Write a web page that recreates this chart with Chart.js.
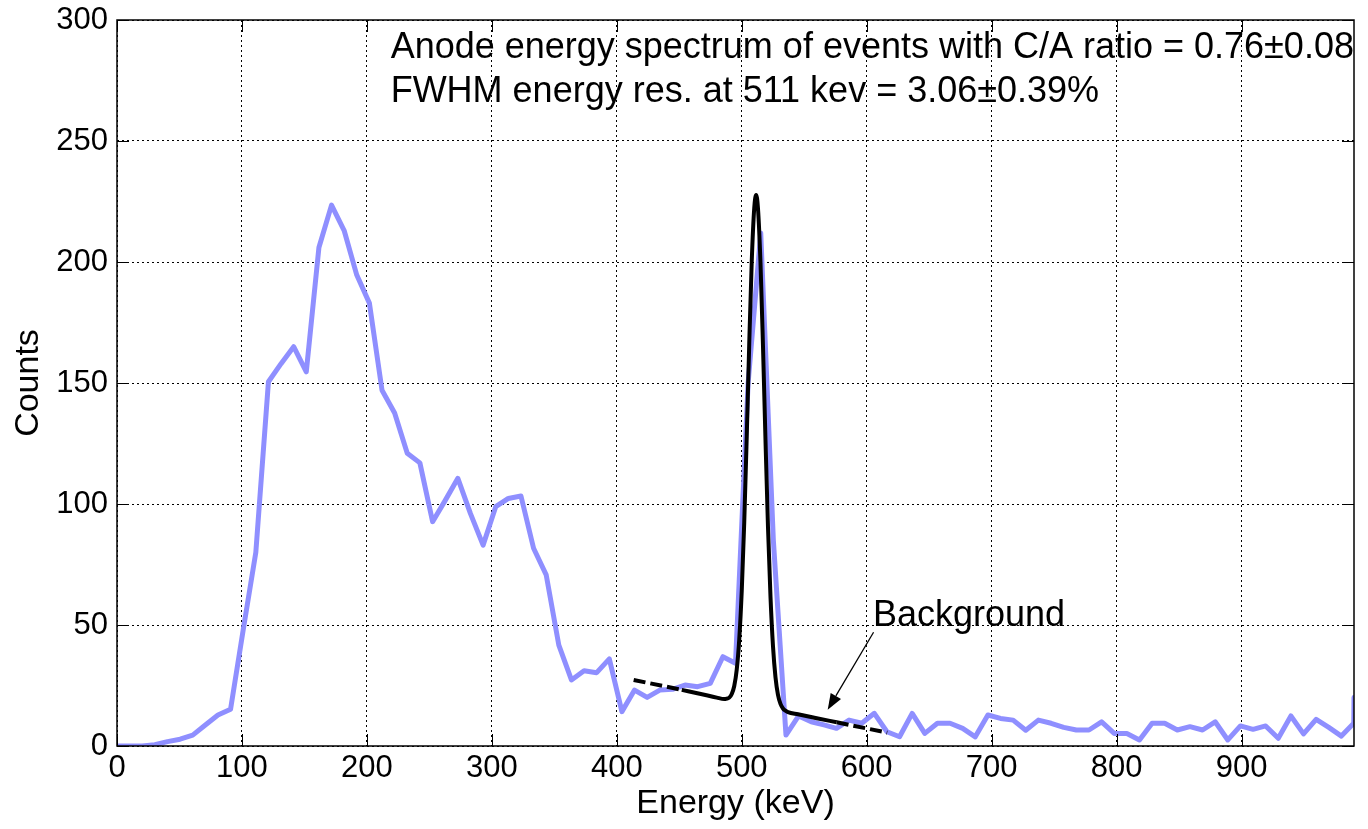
<!DOCTYPE html>
<html>
<head>
<meta charset="utf-8">
<script src="https://cdn.jsdelivr.net/npm/chart.js@4.4.1/dist/chart.umd.min.js"></script>
<style>
html,body{margin:0;padding:0;background:#fff;}
#wrap{width:1368px;height:829px;}
</style>
</head>
<body>
<div id="wrap"><canvas id="c" width="1368" height="829"></canvas></div>
<script>
// ---- Data ----
const energies = [0, 10.1, 20.2, 30.3, 40.4, 50.5, 60.6, 70.7, 80.8, 90.9,
  101.0, 111.1, 121.2, 131.3, 141.4, 151.5, 161.6, 171.7, 181.8, 191.9,
  202.0, 212.1, 222.2, 232.3, 242.4, 252.6, 262.7, 272.8, 282.9, 293.0,
  303.1, 313.2, 323.3, 333.4, 343.5, 353.6, 363.7, 373.8, 383.9, 394.0,
  404.1, 414.2, 424.3, 434.4, 444.5, 454.6, 464.7, 474.8, 484.9, 495.0,
  505.1, 515.2, 525.3, 535.4, 545.5, 555.6, 565.7, 575.8, 585.9, 596.0,
  606.1, 616.2, 626.3, 636.4, 646.5, 656.6, 666.7, 676.8, 686.9, 697.0,
  707.1, 717.2, 727.3, 737.4, 747.6, 757.7, 767.8, 777.9, 788.0, 798.1,
  808.2, 818.3, 828.4, 838.5, 848.6, 858.7, 868.8, 878.9, 889.0, 899.1,
  909.2, 919.3, 929.4, 939.5, 949.6, 959.7, 969.8, 979.9, 989.8, 990.0];
const counts = [0, 0, 0, 0.5, 1.8, 2.8, 4.5, 8.7, 12.8, 15.2,
  48, 80, 150.5, 158, 165, 154.6, 206, 223.5, 213, 194.6,
  183, 147, 137.6, 121, 117, 92.7, 101.5, 110.6, 96, 83,
  98.9, 102.3, 103.3, 81.7, 70.7, 41.7, 27.3, 31.1, 30.3, 36,
  14.2, 23.1, 20.1, 23.1, 23.4, 25.2, 24.5, 25.9, 36.9, 34.2,
  150, 212, 85, 4.5, 12.4, 10, 8.7, 7.3, 10.7, 9.4,
  13.5, 5.9, 3.8, 13.5, 5.2, 9.4, 9.4, 7.3, 3.8, 12.8,
  11.4, 10.7, 6.5, 10.7, 9.4, 7.7, 6.6, 6.6, 10, 5.2,
  5.2, 2.5, 9.4, 9.4, 6.6, 8, 6.6, 10, 2.5, 8.3,
  6.9, 8.3, 3.2, 12.4, 5, 11, 7.7, 4.1, 9.4, 20];

// Fitted peak (solid part) and extrapolated background (dashed parts)
const fitE = [452, 470, 480, 486, 488, 490, 492, 494, 496, 498, 500, 502, 504, 506, 508, 510,
  511.5, 513, 515, 517, 519, 521, 523, 525, 527, 529, 531, 533, 535, 537, 545, 560, 576];
const fitC = [23.2, 21.2, 20.0, 19.4, 19.6, 20.0, 21.5, 24.8, 31.6, 44.1, 64.1, 92.5, 128.0, 166.3, 200.3, 222.3,
  227.7, 222.1, 199.7, 165.2, 126.4, 90.5, 61.7, 41.3, 28.4, 21.1, 17.4, 15.5, 14.6, 14.0, 13.1, 11.5, 9.8];
const bgLeftE = [413.5, 452];
const bgLeftC = [27.3, 23.2];
const bgRightE = [576, 616.4];
const bgRightC = [9.8, 5.5];

const xTickValues = [0, 100, 200, 300, 400, 500, 600, 700, 800, 900];
const yTickValues = [0, 50, 100, 150, 200, 250, 300];

const infoLines = ['Anode energy spectrum of events with C/A ratio = 0.76\u00b10.08',
                   'FWHM energy res. at 511 kev = 3.06\u00b10.39%'];
const infoPos = {x: 219, y1: 288.4, y2: 270.2};
const bgLabel = 'Background';
const bgLabelPos = {x: 605, y: 53.7};
const arrowFrom = {x: 605.5, y: 47};
const arrowTo = {x: 568.8, y: 15};

const FONT = '"Liberation Sans", Arial, Helvetica, sans-serif';

const pts = (xs, ys) => xs.map((v, i) => ({x: v, y: ys[i]}));

const framePlugin = {
  id: 'framePlugin',
  afterDraw(chart) {
    const {ctx, chartArea: a, scales: {x, y}} = chart;
    ctx.save();
    // ticks (inward, all four sides)
    const L = 12;
    ctx.strokeStyle = '#000';
    ctx.lineWidth = 1;
    ctx.beginPath();
    xTickValues.forEach(v => {
      const p = Math.round(x.getPixelForValue(v)) + 0.5;
      ctx.moveTo(p, a.bottom); ctx.lineTo(p, a.bottom - L);
      ctx.moveTo(p, a.top); ctx.lineTo(p, a.top + L);
    });
    yTickValues.forEach(v => {
      const p = Math.round(y.getPixelForValue(v)) + 0.5;
      ctx.moveTo(a.left, p); ctx.lineTo(a.left + L, p);
      ctx.moveTo(a.right, p); ctx.lineTo(a.right - L, p);
    });
    ctx.stroke();
    // box
    ctx.lineWidth = 1.5;
    ctx.strokeRect(a.left, a.top, a.right - a.left, a.bottom - a.top);

    // text annotations
    ctx.fillStyle = '#000';
    ctx.font = '36px ' + FONT;
    ctx.textAlign = 'left';
    ctx.textBaseline = 'middle';
    ctx.fillText(infoLines[0], x.getPixelForValue(infoPos.x), y.getPixelForValue(infoPos.y1));
    ctx.fillText(infoLines[1], x.getPixelForValue(infoPos.x), y.getPixelForValue(infoPos.y2));
    ctx.fillText(bgLabel, x.getPixelForValue(bgLabelPos.x), y.getPixelForValue(bgLabelPos.y));

    // arrow
    const x0 = x.getPixelForValue(arrowFrom.x), y0 = y.getPixelForValue(arrowFrom.y);
    const x1 = x.getPixelForValue(arrowTo.x), y1 = y.getPixelForValue(arrowTo.y);
    const ang = Math.atan2(y1 - y0, x1 - x0);
    const hl = 16, hw = 6;
    const bx = x1 - hl * Math.cos(ang), by = y1 - hl * Math.sin(ang);
    ctx.lineWidth = 1.3;
    ctx.beginPath(); ctx.moveTo(x0, y0); ctx.lineTo(bx, by); ctx.stroke();
    ctx.beginPath();
    ctx.moveTo(x1, y1);
    ctx.lineTo(bx + hw * Math.sin(ang), by - hw * Math.cos(ang));
    ctx.lineTo(bx - hw * Math.sin(ang), by + hw * Math.cos(ang));
    ctx.closePath();
    ctx.fill();
    ctx.restore();
  }
};

new Chart(document.getElementById('c'), {
  type: 'line',
  data: {
    datasets: [
      {label: 'Fit', data: pts(fitE, fitC), borderColor: '#000', borderWidth: 4,
       pointRadius: 0, cubicInterpolationMode: 'monotone', order: 1},
      {label: 'Background left', data: pts(bgLeftE, bgLeftC), borderColor: '#000', borderWidth: 4,
       borderDash: [12, 5], pointRadius: 0, order: 1},
      {label: 'Background right', data: pts(bgRightE, bgRightC), borderColor: '#000', borderWidth: 4,
       borderDash: [12, 5], pointRadius: 0, order: 1},
      {label: 'Spectrum', data: pts(energies, counts), borderColor: '#8f8fff', borderWidth: 5,
       pointRadius: 0, tension: 0, order: 2, borderJoinStyle: 'round', borderCapStyle: 'round'}
    ]
  },
  options: {
    responsive: false,
    animation: false,
    devicePixelRatio: 1,
    layout: {padding: {top: 20, right: 14, left: 0, bottom: 0}},
    plugins: {legend: {display: false}, tooltip: {enabled: false}},
    scales: {
      x: {
        type: 'linear', min: 0, max: 990,
        afterFit: s => { s.height = 83; s.paddingRight = 0; },
        afterBuildTicks: s => { s.ticks = xTickValues.map(v => ({value: v})); },
        ticks: {stepSize: 100, includeBounds: false, color: '#000', padding: 4,
                font: {family: FONT, size: 31}, maxRotation: 0, autoSkip: false},
        grid: {color: '#000', lineWidth: 1, drawTicks: false},
        border: {display: false, dash: [2, 3]},
        title: {display: true, text: 'Energy (keV)', color: '#000',
                font: {family: FONT, size: 34}, padding: {top: 0, bottom: 5}}
      },
      y: {
        type: 'linear', min: 0, max: 300,
        afterFit: s => { s.width = 117; s.paddingTop = 0; s.paddingBottom = 0; },
        afterBuildTicks: s => { s.ticks = yTickValues.map(v => ({value: v})); },
        ticks: {stepSize: 50, color: '#000', padding: 9,
                font: {family: FONT, size: 31}},
        grid: {color: '#000', lineWidth: 1, drawTicks: false},
        border: {display: false, dash: [2, 3]},
        title: {display: true, text: 'Counts', color: '#000',
                font: {family: FONT, size: 34}, padding: {top: 8, bottom: 0}}
      }
    }
  },
  plugins: [framePlugin]
});
</script>
</body>
</html>
